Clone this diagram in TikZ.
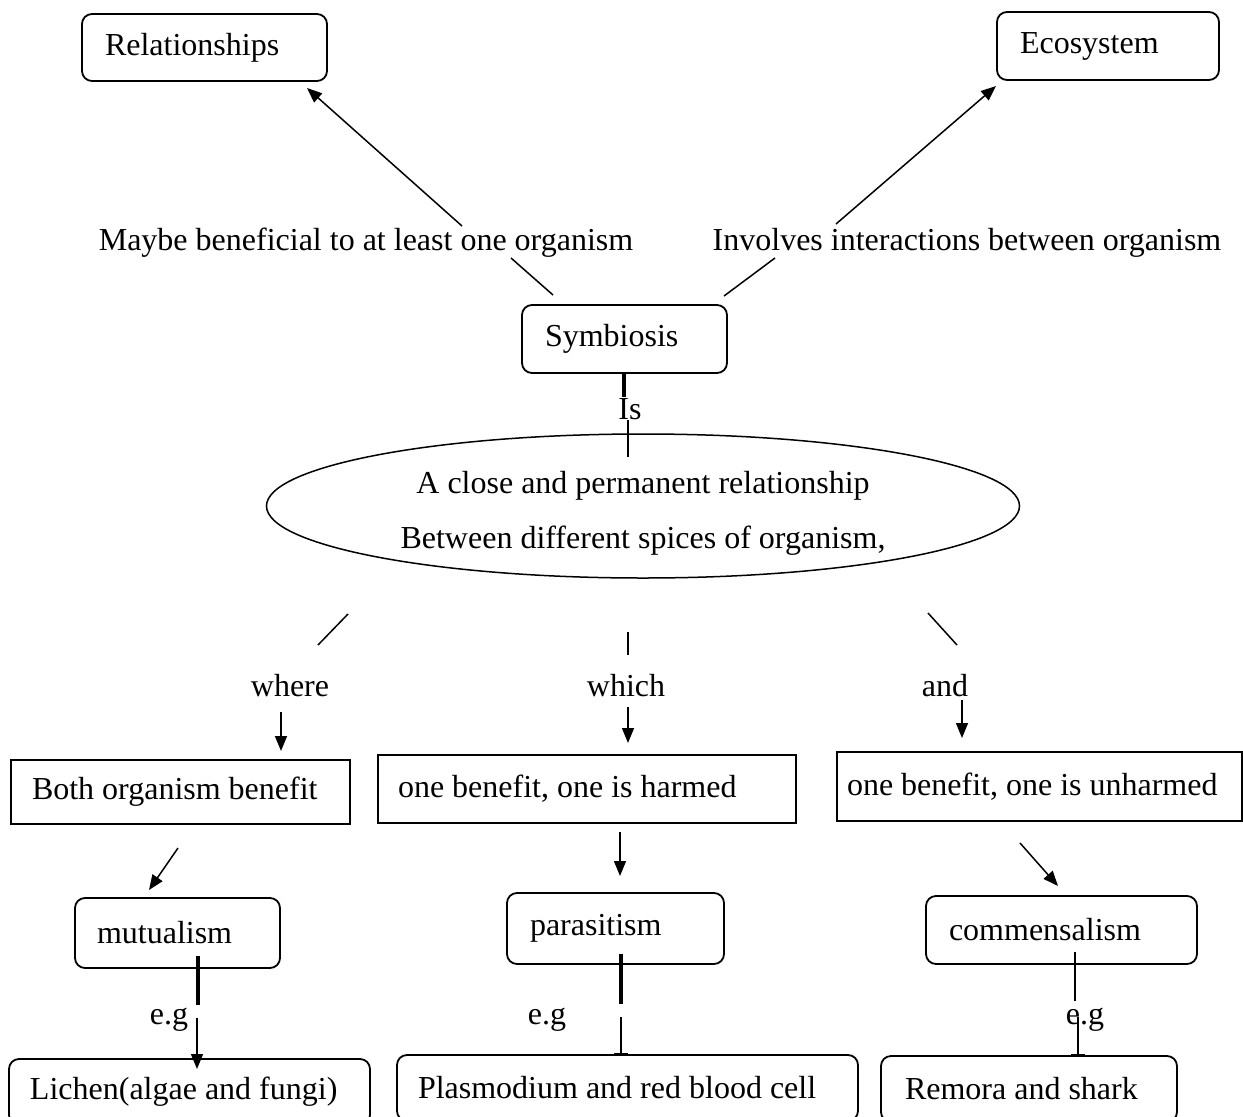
\documentclass[tikz,border=0pt]{standalone}
\usepackage{fontspec}
\setmainfont{Liberation Serif}
\usetikzlibrary{arrows.meta,shapes.geometric}
\begin{document}
\begin{tikzpicture}[x=1pt,y=-1pt,
  every node/.style={font=\fontsize{32}{38}\selectfont},
  rbox/.style={draw,line width=1.8pt,rounded corners=10pt,inner ysep=0pt,execute at begin node={\spaceskip=0pt\xspaceskip=0pt\noindent}},
  sbox/.style={draw,line width=1.6pt,inner ysep=0pt,execute at begin node={\spaceskip=0pt\xspaceskip=0pt\noindent}},
  lbl/.style={inner sep=0pt},
  ln/.style={line width=1.5pt},
  thk/.style={line width=3.5pt},
  arr/.style={line width=1.5pt,-{Triangle[length=15pt,width=12pt]}},
  tee/.style={line width=1.5pt,-{Bar[width=14pt,line width=2pt]}}]
\useasboundingbox (0,0) rectangle (1243,1117);

% boxes
\node[rbox,text width=199pt,inner xsep=23pt,minimum height=67pt] (rel) at (204.5,47.5) {Relationships};
\node[rbox,text width=176pt,inner xsep=23pt,minimum height=68pt] (eco) at (1108,46) {Ecosystem};
\node[rbox,text width=159pt,inner xsep=23pt,minimum height=68pt] (sym) at (624.5,339) {Symbiosis};
\node[draw,ellipse,line width=1.5pt,minimum width=753pt,minimum height=144pt,inner sep=0pt] (ell) at (643,506) {};
\node[lbl,align=center,font=\fontsize{32}{55}\selectfont] (elltxt) at (643,513) {A close and permanent relationship\\Between different spices of organism,};

\node[sbox,text width=297pt,inner xsep=21pt,minimum height=64pt] (both) at (180.5,792) {Both organism benefit};
\node[sbox,text width=378pt,inner xsep=20pt,minimum height=68pt] (harm) at (587,789) {one benefit, one is harmed};
\node[sbox,text width=385pt,inner xsep=10pt,minimum height=69pt] (unh) at (1039.5,786.5) {one benefit, one is unharmed};

\node[rbox,text width=161pt,inner xsep=22pt,minimum height=70pt] (mut) at (177.5,933) {mutualism};
\node[rbox,text width=171pt,inner xsep=23pt,minimum height=71pt] (par) at (615.5,928.5) {parasitism};
\node[rbox,text width=225pt,inner xsep=23pt,minimum height=68pt] (com) at (1061.5,930) {commensalism};

\node[rbox,text width=319pt,inner xsep=21pt,minimum height=66pt] (lich) at (189.5,1092) {Lichen(algae and fungi)};
\node[rbox,text width=419pt,inner xsep=21pt,minimum height=66pt] (plas) at (627.5,1088) {Plasmodium and red blood cell};
\node[rbox,text width=248pt,inner xsep=24pt,minimum height=66pt] (rem) at (1029,1089) {Remora and shark};

% labels
\node[lbl] (maybe) at (366,243) {Maybe beneficial to at least one organism};
\node[lbl] (inv) at (967,243) {Involves interactions between organism};
\node[lbl] (is) at (630,409) {Is};
\node[lbl] (where) at (290,686) {where};
\node[lbl] (which) at (626,686) {which};
\node[lbl] (and) at (945,686) {and};
\node[lbl] (eg1) at (169,1020) {e.g};
\node[lbl] (eg2) at (547,1020) {e.g};
\node[lbl] (eg3) at (1085,1020) {e.g};

% connector end points
\coordinate (m1) at (462,226);
\coordinate (m2) at (307,88);
\coordinate (i1) at (836,224);
\coordinate (i2) at (996,86);
\coordinate (m3) at (511,258);
\coordinate (m4) at (553,295);
\coordinate (i3) at (775,258);
\coordinate (i4) at (724,296);
\coordinate (s1) at (624,373);
\coordinate (s2) at (624,397);
\coordinate (s3) at (628,420);
\coordinate (s4) at (628,457);
\coordinate (w1) at (348,614);
\coordinate (w2) at (318,645);
\coordinate (h1) at (628,632);
\coordinate (h2) at (628,655);
\coordinate (a1) at (928,613);
\coordinate (a2) at (957,645);
\coordinate (w3) at (281,712);
\coordinate (w4) at (281,751);
\coordinate (h3) at (628,707);
\coordinate (h4) at (628,743);
\coordinate (a3) at (962,700);
\coordinate (a4) at (962,738);
\coordinate (b1) at (178,848);
\coordinate (b2) at (149,890);
\coordinate (p1) at (620,832);
\coordinate (p2) at (620,876);
\coordinate (u1) at (1020,843);
\coordinate (u2) at (1058,886);
\coordinate (e1) at (198,956);
\coordinate (e2) at (198,1005);
\coordinate (e3) at (197,1018);
\coordinate (e4) at (197,1069);
\coordinate (f1) at (621,954);
\coordinate (f2) at (621,1004);
\coordinate (f3) at (621,1017);
\coordinate (f4) at (621,1055);
\coordinate (g1) at (1075,952);
\coordinate (g2) at (1075,1001);
\coordinate (g3) at (1078,1017);
\coordinate (g4) at (1078,1056);

% connectors
\draw[arr] (m1) -- (m2);
\draw[arr] (i1) -- (i2);
\draw[ln] (m3) -- (m4);
\draw[ln] (i3) -- (i4);
\draw[thk] (s1) -- (s2);
\draw[ln] (s3) -- (s4);
\draw[ln] (w1) -- (w2);
\draw[ln] (h1) -- (h2);
\draw[ln] (a1) -- (a2);
\draw[arr] (w3) -- (w4);
\draw[arr] (h3) -- (h4);
\draw[arr] (a3) -- (a4);
\draw[arr] (b1) -- (b2);
\draw[arr] (p1) -- (p2);
\draw[arr] (u1) -- (u2);
\draw[thk] (e1) -- (e2);
\draw[arr] (e3) -- (e4);
\draw[thk] (f1) -- (f2);
\draw[tee] (f3) -- (f4);
\draw[ln] (g1) -- (g2);
\draw[tee] (g3) -- (g4);
\end{tikzpicture}
\end{document}
